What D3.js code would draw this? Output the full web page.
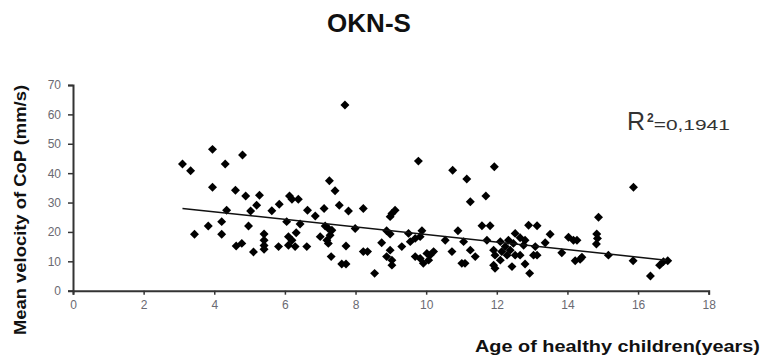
<!DOCTYPE html>
<html><head><meta charset="utf-8">
<script src="https://cdn.jsdelivr.net/npm/d3@7/dist/d3.min.js"></script>
<style>body{margin:0;background:#fff}svg{display:block}</style>
</head><body>
<svg id="c" width="761" height="359"></svg>
<script>
const title = "OKN-S";
const xLabel = "Age of healthy children(years)";
const yLabel = "Mean velocity of CoP (mm/s)";
const r2Text = "0,1941";
const xTicks = [0, 2, 4, 6, 8, 10, 12, 14, 16, 18];
const yTicks = [0, 10, 20, 30, 40, 50, 60, 70];
const ages = [
  3.10, 3.33, 3.44, 3.83, 3.95, 3.95, 4.21, 4.21, 4.31, 4.35, 4.60, 4.62,
  4.78, 4.80, 4.89, 4.97, 5.03, 5.11, 5.20, 5.28, 5.41, 5.41, 5.41, 5.41,
  5.63, 5.84, 5.82,
  6.05, 6.10, 6.20, 6.10, 6.29, 6.32, 6.43, 6.13, 6.20, 6.38, 6.62, 6.64, 6.86,
  7.00, 7.11, 7.14, 7.23, 7.33, 7.28, 7.19, 7.23, 7.26, 7.42, 7.31, 7.54,
  7.61, 7.73, 7.73, 7.70, 7.80, 7.99,
  8.22, 8.22, 8.34, 8.54, 8.74, 8.88, 8.98, 8.98, 9.03, 9.12, 8.88, 8.98, 9.03, 9.03,
  9.31, 9.50, 9.55, 9.69, 9.78, 9.88, 9.83, 9.69, 9.83, 9.92, 10.02, 10.11, 10.21, 10.07,
  10.54, 10.75, 10.90, 10.73, 11.01, 11.10, 11.06, 11.15,
  11.25, 11.25, 11.39, 11.58, 11.81, 11.69, 11.72, 11.93, 11.91, 11.95, 11.91, 11.95,
  12.10, 12.14, 12.24, 12.29, 12.33, 12.38, 12.47, 12.52, 12.52, 12.66, 12.66, 12.76,
  12.80, 12.10, 12.43, 12.80, 12.93, 12.90,
  13.04, 13.14, 13.09, 13.14, 13.37, 13.51, 13.84,
  14.03, 14.17, 14.27, 14.22, 14.36, 14.41, 14.83, 14.85, 14.82, 14.88, 15.16, 15.86,
  15.87, 16.35, 16.61, 16.72, 16.84
];
const velocities = [
  43.1, 40.8, 19.2, 22.0, 48.1, 35.2, 23.5, 19.2, 43.1, 27.4, 34.2, 15.2,
  16.1, 46.2, 32.2, 22.0, 27.1, 13.2, 29.1, 32.5, 19.3, 17.2, 15.4, 14.1,
  27.2, 29.4, 15.0,
  23.5, 18.4, 17.2, 15.5, 15.0, 19.7, 22.7, 32.2, 31.1, 31.1, 15.0, 27.4, 25.4,
  18.4, 28.0, 22.0, 21.2, 20.6, 18.9, 17.2, 16.1, 37.4, 34.0, 11.6, 29.1,
  9.1, 9.1, 15.2, 63.2, 27.1, 21.2,
  28.0, 13.3, 13.3, 5.9, 16.3, 20.4, 19.3, 25.2, 26.3, 27.4, 11.6, 13.8, 10.4, 8.7,
  15.0, 19.5, 16.7, 17.8, 44.1, 20.4, 18.4, 11.6, 11.0, 9.3, 12.7, 12.1, 13.3, 10.4,
  17.2, 41.0, 20.4, 13.3, 9.3, 9.3, 16.7, 38.0,
  30.3, 13.8, 11.6, 22.1, 22.1, 32.2, 17.2, 42.2, 13.8, 12.1, 8.7, 7.6,
  16.7, 13.3, 15.0, 12.1, 17.2, 13.8, 16.1, 19.5, 12.1, 18.0, 12.1, 15.5,
  17.2, 10.4, 8.2, 9.1, 5.9, 22.3,
  12.1, 12.1, 15.0, 22.1, 16.3, 19.2, 12.9,
  18.2, 17.2, 17.2, 10.2, 10.7, 11.4, 19.3, 17.8, 15.9, 25.0, 12.1, 10.2,
  35.2, 5.0, 8.7, 9.9, 10.2
];
const trendAges = [3.1, 16.8];
const trendVel = [28.0, 10.4];

const svg = d3.select("#c");
const font = "'Liberation Sans', Arial, sans-serif";
const x = d3.scaleLinear().domain([0, 18]).range([73, 708.7]);
const y = d3.scaleLinear().domain([0, 70]).range([290.7, 85]);

// axes
const xAxis = svg.append("g").attr("transform", `translate(0,${y(0)})`)
  .call(d3.axisBottom(x).tickValues(xTicks).tickSize(4).tickPadding(6).tickFormat(d3.format("d")));
const yAxis = svg.append("g").attr("transform", `translate(${x(0)},0)`)
  .call(d3.axisLeft(y).tickValues(yTicks).tickSize(5).tickPadding(7).tickFormat(d3.format("d")));
[xAxis, yAxis].forEach(g => {
  g.select(".domain").attr("stroke", "#333").attr("stroke-width", 2);
  g.selectAll(".tick line").attr("stroke", "#333").attr("stroke-width", 1.5);
  g.selectAll(".tick text").attr("fill", "#6a6a72").attr("font-size", 12).attr("font-family", font);
});

// points
const diamond = d3.symbol().type(d3.symbolSquare).size(40);
svg.append("g").selectAll("path").data(ages.map((a, i) => [a, velocities[i]]))
  .join("path")
  .attr("d", diamond)
  .attr("fill", "#000")
  .attr("transform", d => `translate(${x(d[0])},${y(d[1])}) rotate(45)`);

// trend line
svg.append("path")
  .datum(trendAges.map((a, i) => [a, trendVel[i]]))
  .attr("d", d3.line().x(d => x(d[0])).y(d => y(d[1])))
  .attr("stroke", "#111").attr("stroke-width", 1.5).attr("fill", "none");

// title
svg.append("text").attr("x", 369).attr("y", 32).attr("text-anchor", "middle")
  .attr("font-family", font).attr("font-weight", "bold").attr("font-size", 26)
  .attr("fill", "#111").text(title);

// axis labels
svg.append("text").attr("x", 475).attr("y", 352)
  .attr("font-family", font).attr("font-weight", "bold").attr("font-size", 17)
  .attr("textLength", 285).attr("lengthAdjust", "spacingAndGlyphs")
  .attr("fill", "#111").text(xLabel);
svg.append("text").attr("transform", "translate(26,335) rotate(-90)")
  .attr("font-family", font).attr("font-weight", "bold").attr("font-size", 16)
  .attr("textLength", 250).attr("lengthAdjust", "spacingAndGlyphs")
  .attr("fill", "#111").text(yLabel);

// R² annotation
const r2 = svg.append("text").attr("x", 627).attr("y", 130)
  .attr("font-family", font).attr("fill", "#333");
r2.append("tspan").attr("font-size", 25).text("R");
r2.append("tspan").attr("font-size", 12).attr("dx", 2).attr("dy", -8).attr("font-weight", "bold").text("2");
r2.append("tspan").attr("font-size", 14).attr("dy", 8)
  .attr("textLength", 76).attr("lengthAdjust", "spacingAndGlyphs").text("=" + r2Text);
</script>
</body></html>
